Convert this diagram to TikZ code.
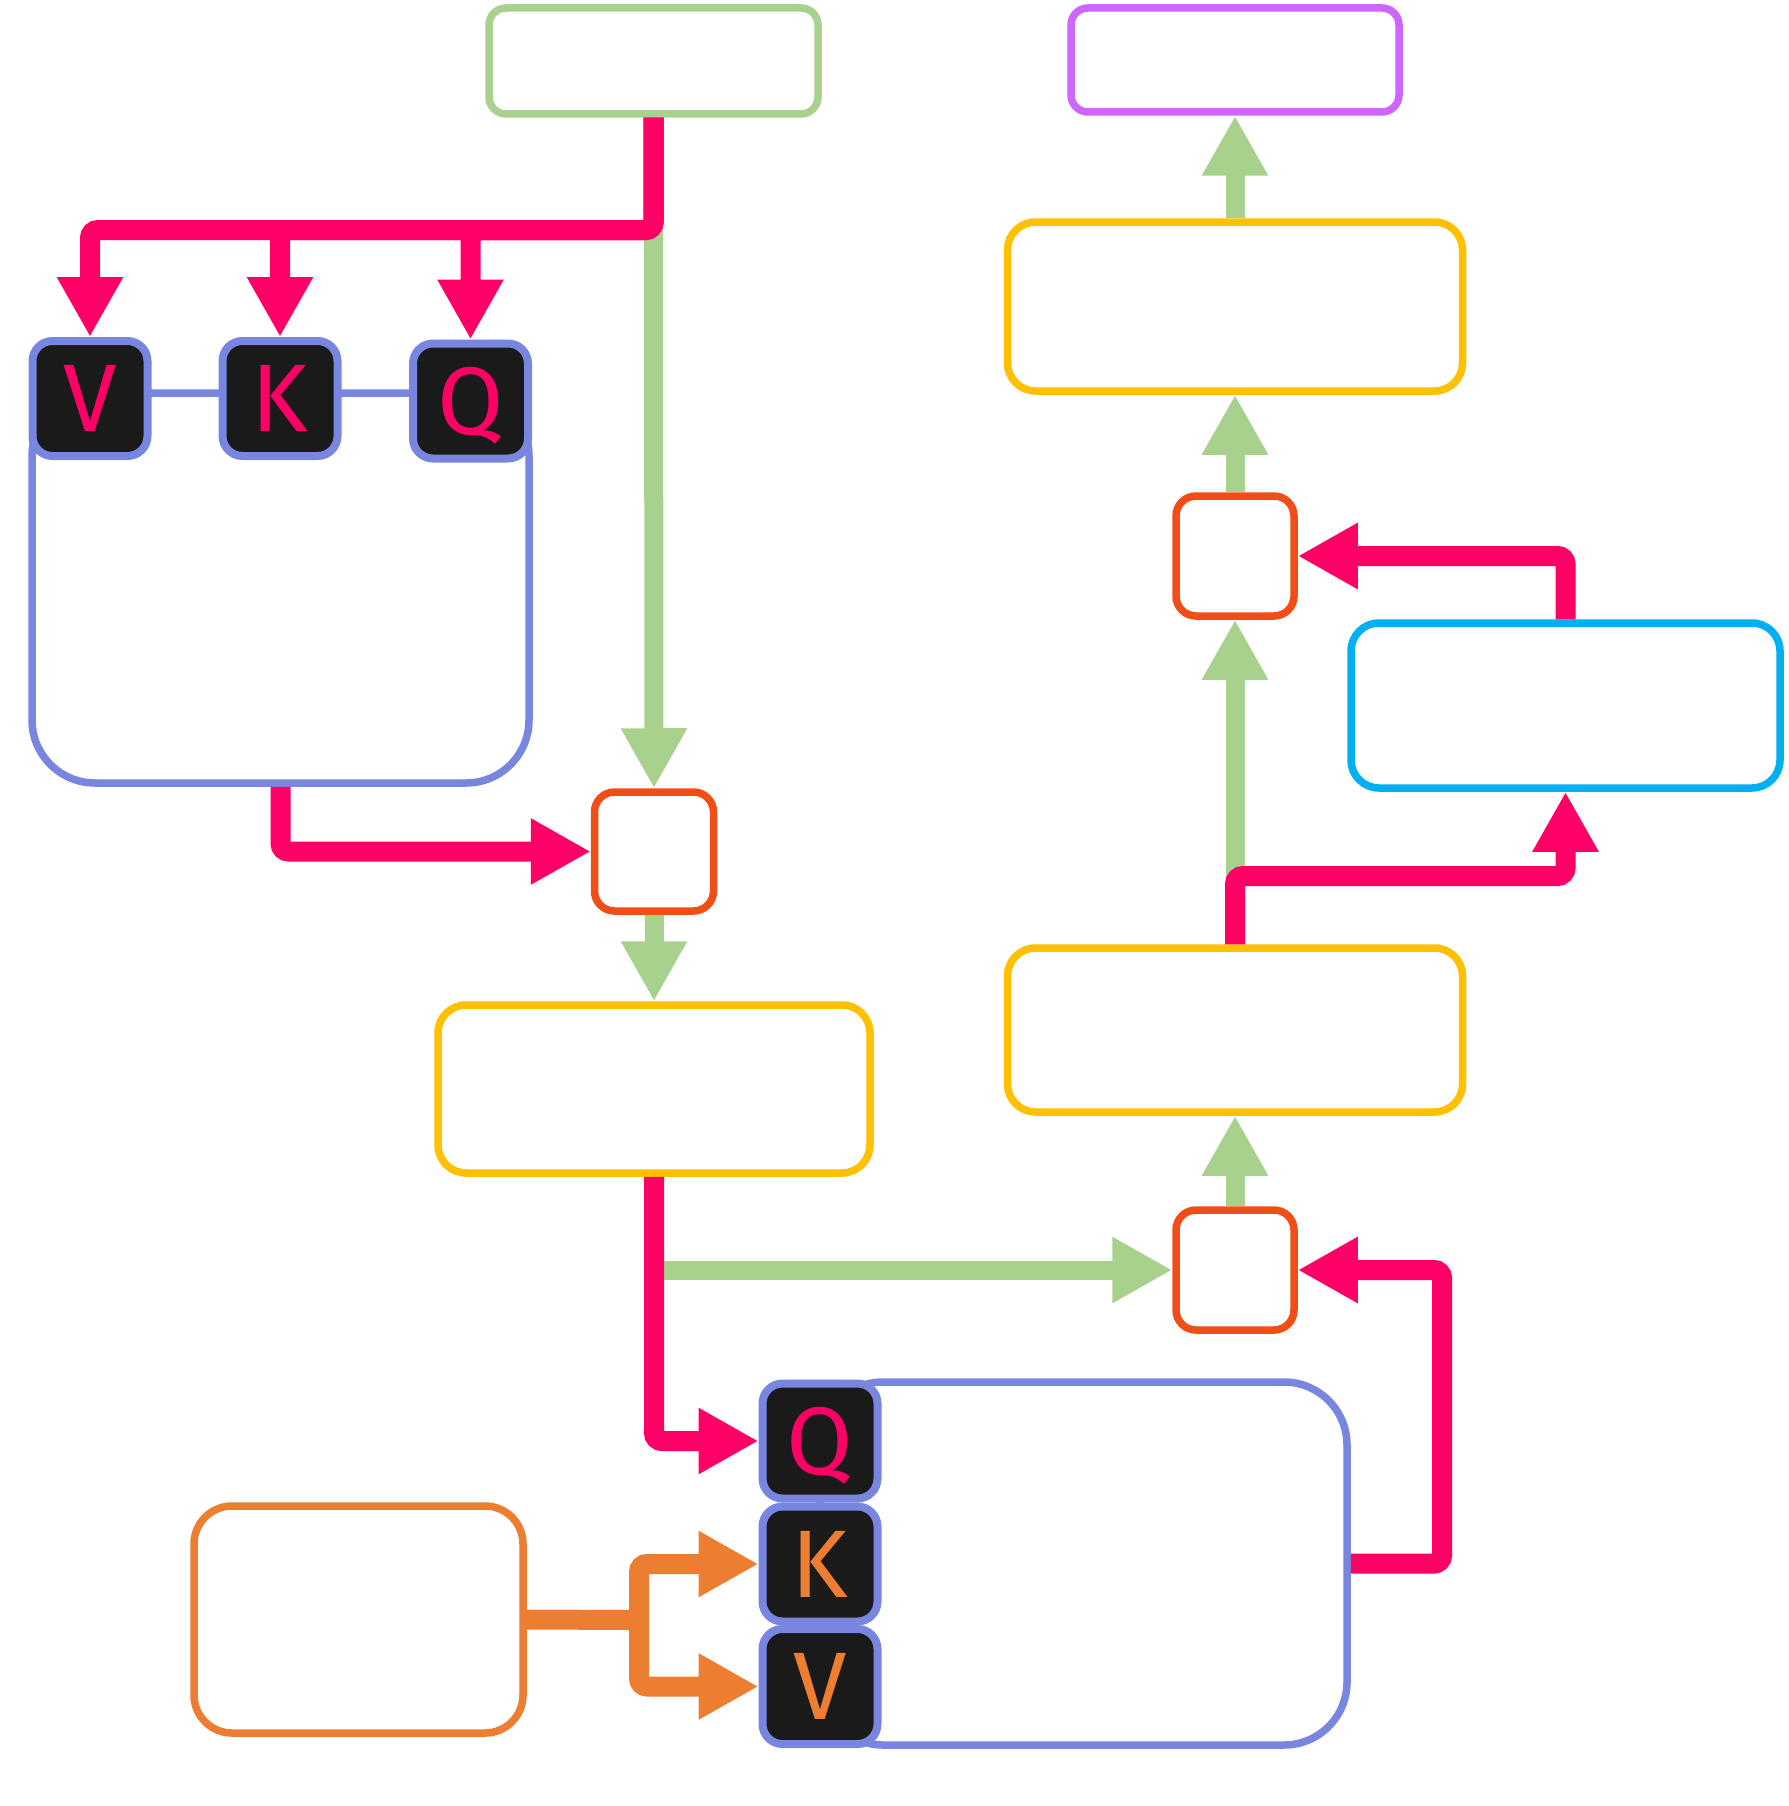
\documentclass[tikz,border=0pt]{standalone}
\usepackage{fontspec}
\newfontfamily\lettersfont{Fira Sans}
\usetikzlibrary{arrows.meta}
\definecolor{cpink}{HTML}{FF0066}
\definecolor{cgreen}{HTML}{A9D18E}
\definecolor{cblue}{HTML}{7986E0}
\definecolor{cred}{HTML}{F04E16}
\definecolor{cyellow}{HTML}{FFC000}
\definecolor{ccyan}{HTML}{00B0F0}
\definecolor{cpurple}{HTML}{CC66FF}
\definecolor{corange}{HTML}{ED7D31}
\definecolor{cdark}{HTML}{1A1A1A}
\begin{document}
\begin{tikzpicture}[x=1pt,y=-1pt,
  box/.style={draw, line width=7.5pt, inner sep=0pt, fill=white},
  letterbox/.style={draw=cblue, fill=cdark, line width=8pt, rounded corners=20pt,
    minimum width=115pt, minimum height=115pt, inner sep=0pt,
    text height=66pt, text depth=0pt, font=\lettersfont\fontsize{96}{96}\selectfont},
  tip/.style={-{Triangle[length=60pt,width=62pt]}},
  pk/.style={tip, draw=cpink, line width=20pt, rounded corners=8pt},
  gr/.style={tip, draw=cgreen, line width=19pt},
  orl/.style={draw=corange, line width=20pt, rounded corners=8pt},
  or/.style={tip, orl},
]
\useasboundingbox[fill=white] (0,0) rectangle (1788,1806);

% top boxes
\node[box, draw=cgreen, minimum width=329pt, minimum height=106pt, rounded corners=17pt] (topg) at (653.5,61) {};
\node[box, draw=cpurple, minimum width=328pt, minimum height=104pt, rounded corners=17pt] (topp) at (1235,60) {};

% left big box with V K Q
\node[box, draw=cblue, minimum width=497pt, minimum height=390pt, rounded corners=63pt] (bigL) at (280.5,588) {};
\node[letterbox, text=cpink] (V1) at (90,398.5) {V};
\node[letterbox, text=cpink] (K1) at (280,398.5) {K};
\node[letterbox, text=cpink] (Q1) at (470.5,401) {Q};

% middle column
\node[box, draw=cred, minimum width=119pt, minimum height=119pt, rounded corners=20pt] (sb1) at (654,851.5) {};
\node[box, draw=cyellow, minimum width=432pt, minimum height=168pt, rounded corners=28pt] (ylw1) at (654,1089) {};

% bottom right big box with Q K V
\node[box, draw=cblue, minimum width=527pt, minimum height=363pt, rounded corners=63pt] (bigR) at (1083.5,1563.5) {};
\node[letterbox, text=cpink] (Q2) at (820,1441) {Q};
\node[letterbox, text=corange] (K2) at (820,1564) {K};
\node[letterbox, text=corange] (V2) at (820,1686.5) {V};

% orange box
\node[box, draw=corange, minimum width=329pt, minimum height=227pt, rounded corners=38pt] (orb) at (358.5,1619.5) {};

% right column
\node[box, draw=cyellow, minimum width=455pt, minimum height=169pt, rounded corners=28pt] (ylw3) at (1235,306.5) {};
\node[box, draw=cred, minimum width=118pt, minimum height=120pt, rounded corners=20pt] (sb3) at (1235,556) {};
\node[box, draw=ccyan, minimum width=429pt, minimum height=165pt, rounded corners=28pt] (cyan) at (1565.5,705.5) {};
\node[box, draw=cyellow, minimum width=455pt, minimum height=164pt, rounded corners=28pt] (ylw2) at (1235,1030) {};
\node[box, draw=cred, minimum width=118pt, minimum height=120pt, rounded corners=20pt] (sb2) at (1235,1270) {};

% junction coordinates
\coordinate (ja) at (653.5,230);
\coordinate (jb) at (654,1270);
\coordinate (jc) at (1442,1563.5);
\coordinate (jd) at (639,1620);
\coordinate (je) at (1235,876);

% connectors: left / middle
\draw[gr] (ja) -- (sb1.north);
\draw[pk] (topg.south) -- (ja) -| (V1.north);
\draw[pk] (topg.south) -- (ja) -| (K1.north);
\draw[pk] (topg.south) -- (ja) -| (Q1.north);
\draw[pk] (bigL.south) |- (sb1.west);
\draw[gr] (sb1.south) -- (ylw1.north);
\draw[gr] (jb) -- (sb2.west);
\draw[pk] (ylw1.south) |- (Q2.west);
\draw[pk] (bigR.east) -- (jc) |- (sb2.east);
\draw[orl] (orb.east) -- (jd);
\draw[or] (jd) |- (K2.west);
\draw[or] (jd) |- (V2.west);

% connectors: right column
\draw[gr] (sb2.north) -- (sb2.north |- ylw2.south);
\draw[gr] (je) -- (sb3.south);
\draw[pk] (ylw2.north) -- (je) -| (cyan.south);
\draw[pk] (cyan.north) |- (sb3.east);
\draw[gr] (sb3.north) -- (ylw3.south);
\draw[gr] (ylw3.north) -- (topp.south);
\end{tikzpicture}
\end{document}
